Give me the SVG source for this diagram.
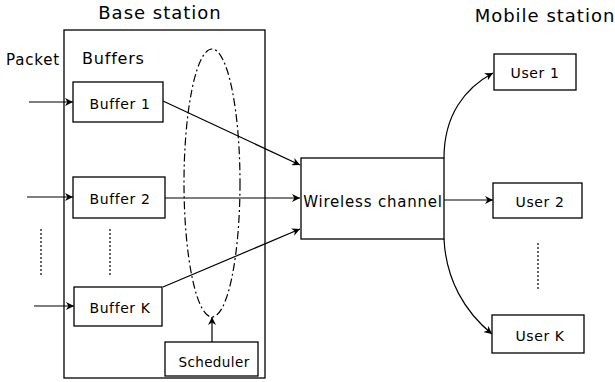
<svg xmlns="http://www.w3.org/2000/svg" width="615" height="382" viewBox="0 0 615 382">
<defs>
<marker id="ah" viewBox="0 0 10 10" refX="10" refY="5" markerWidth="8" markerHeight="8" markerUnits="userSpaceOnUse" orient="auto"><path d="M0,0 L10,5 L0,10 L3,5 z" fill="#000"/></marker>
<style>
.box{fill:#fff;stroke:#000;stroke-width:1.3}
.t{font-family:"DejaVu Sans",sans-serif;font-size:14px;letter-spacing:0.6px;fill:#000}
.lbl{font-family:"DejaVu Sans",sans-serif;font-size:15px;letter-spacing:0.8px;fill:#000}
.w{font-family:"DejaVu Sans",sans-serif;font-size:15px;letter-spacing:0.8px;fill:#000}
.s{font-family:"DejaVu Sans",sans-serif;font-size:13.5px;letter-spacing:0.4px;fill:#000}
.big{font-family:"DejaVu Sans",sans-serif;font-size:18px;letter-spacing:1px;fill:#000}
.a{fill:none;stroke:#000;stroke-width:1.2;marker-end:url(#ah)}
.dot{fill:none;stroke:#000;stroke-width:1.2;stroke-dasharray:2 2}
</style>
</defs>
<rect width="615" height="382" fill="#fff"/>
<g id="base_station">
<rect class="box" x="64" y="30" width="201" height="348"/>
<text class="big" x="160" y="19" text-anchor="middle">Base station</text>
<text class="lbl" x="82" y="64" style="font-size:16px">Buffers</text>
</g>
<text class="lbl" x="6" y="65">Packet</text>
<text class="big" x="545" y="22" text-anchor="middle">Mobile station</text>
<g id="buffer1"><rect class="box" x="73" y="82" width="90" height="40"/><text class="t" x="120" y="109" text-anchor="middle">Buffer 1</text></g>
<g id="buffer2"><rect class="box" x="73" y="177" width="92" height="41"/><text class="t" x="120" y="204" text-anchor="middle">Buffer 2</text></g>
<g id="bufferK"><rect class="box" x="74" y="287" width="88" height="39"/><text class="t" x="120" y="313" text-anchor="middle">Buffer K</text></g>
<g id="scheduler"><rect class="box" x="165" y="342" width="93" height="34"/><text class="s" x="214" y="367" text-anchor="middle">Scheduler</text></g>
<g id="scheduler_ellipse"><ellipse cx="212" cy="183" rx="28" ry="134" fill="none" stroke="#000" stroke-width="1.2" stroke-dasharray="8 3 2 3"/></g>
<g id="wireless"><rect class="box" x="301" y="158" width="143" height="81"/><text class="w" x="373" y="207" text-anchor="middle">Wireless channel</text></g>
<g id="user1"><rect class="box" x="494" y="54" width="82" height="36"/><text class="t" x="535" y="78" text-anchor="middle">User 1</text></g>
<g id="user2"><rect class="box" x="493" y="183" width="89" height="35"/><text class="t" x="540" y="207" text-anchor="middle">User 2</text></g>
<g id="userK"><rect class="box" x="492" y="315" width="92" height="38"/><text class="t" x="540" y="341" text-anchor="middle">User K</text></g>
<g id="connectors">
<line class="a" x1="29" y1="102" x2="73" y2="102"/>
<line class="a" x1="27" y1="197" x2="73" y2="197"/>
<line class="a" x1="34" y1="306" x2="74" y2="306"/>
<line class="a" x1="163" y1="101" x2="300" y2="165"/>
<line class="a" x1="165" y1="198" x2="300" y2="198"/>
<line class="a" x1="163" y1="287" x2="300" y2="229"/>
<line class="a" x1="212" y1="342" x2="212" y2="317"/>
<line class="a" x1="444" y1="200" x2="493" y2="200"/>
<path class="a" d="M444,158 C444,115 465,88 493,73"/>
<path class="a" d="M444,239 C446,280 465,312 492,334"/>
<line class="dot" x1="41" y1="229" x2="41" y2="275"/>
<line class="dot" x1="110" y1="229" x2="110" y2="275"/>
<line class="dot" x1="538" y1="243" x2="538" y2="290"/>
</g>
</svg>
